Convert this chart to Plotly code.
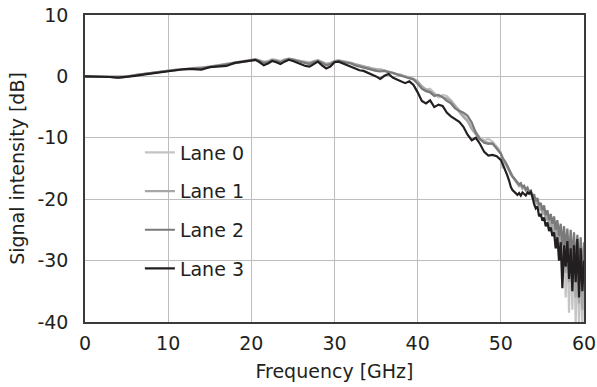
import plotly.graph_objects as go

# Frequency axis [GHz], in three segments
freq_a = [0, 1, 2, 3, 4, 5, 6, 7, 8, 9, 10, 11, 12, 13, 14, 15, 16, 17, 18, 19]
freq_b = [20, 20.5, 21, 21.5, 22, 22.5, 23, 23.5, 24, 24.5,
          25, 25.5, 26, 26.5, 27, 27.5, 28, 28.5, 29, 29.5,
          30, 30.5, 31, 31.5, 32, 32.5, 33, 33.5, 34, 34.5,
          35, 35.5, 36, 36.5, 37, 37.5, 38, 38.5, 39, 39.5,
          40, 40.5, 41, 41.5, 42, 42.5, 43, 43.5, 44, 44.5,
          45, 45.5, 46, 46.5, 47, 47.5, 48, 48.5, 49, 49.5]
freq_c = [50.0, 50.2, 50.4, 50.6, 50.8, 51.0, 51.2, 51.4, 51.6, 51.8,
          52.0, 52.2, 52.4, 52.6, 52.8, 53.0, 53.2, 53.4, 53.6, 53.8,
          54.0, 54.2, 54.4, 54.6, 54.8, 55.0, 55.2, 55.4, 55.6, 55.8,
          56.0, 56.2, 56.4, 56.6, 56.8, 57.0, 57.2, 57.4, 57.6, 57.8,
          58.0, 58.2, 58.4, 58.6, 58.8, 59.0, 59.2, 59.4, 59.6, 59.8,
          60.0]
freq = freq_a + freq_b + freq_c

# Lane 0 signal intensity [dB]
lane0_a = [0.0, 0.0, -0.1, -0.1, -0.2, 0.0, 0.2, 0.4, 0.5, 0.7,
           0.9, 1.1, 1.2, 1.4, 1.4, 1.6, 1.8, 2.0, 2.3, 2.5]
lane0_b = [2.7, 2.8, 2.6, 2.4, 2.5, 2.8, 2.7, 2.5, 2.8, 2.9,
           2.8, 2.6, 2.5, 2.4, 2.3, 2.5, 2.7, 2.4, 2.1, 2.2,
           2.5, 2.6, 2.5, 2.3, 2.1, 1.9, 1.7, 1.5, 1.5, 1.3,
           1.0, 1.2, 1.0, 0.6, 0.5, 0.3, 0.3, 0.0, -0.3, -0.5,
           -1.0, -1.8, -2.2, -2.0, -2.7, -3.4, -3.0, -3.2, -3.9, -4.8,
           -5.5, -6.2, -7.0, -8.2, -9.0, -10.0, -10.4, -10.2, -10.6, -11.4]
lane0_c = [-12.3, -15.0, -13.6, -14.0, -14.6,
           -15.2, -15.8, -16.2, -16.6, -17.0,
           -17.4, -17.8, -17.5, -18.2, -18.0,
           -18.5, -18.2, -18.9, -18.6, -19.6,
           -19.6, -20.6, -20.2, -21.6, -21.0,
           -22.2, -21.5, -23.4, -22.0, -24.6,
           -22.8, -26.0, -23.4, -28.0, -24.0,
           -30.0, -25.0, -33.0, -25.5, -36.0,
           -26.0, -38.5, -27.0, -38.0, -27.5,
           -40.0, -28.0, -40.5, -29.0, -41.0,
           -31.0]

# Lane 1
lane1_a = [0.0, 0.0, 0.0, -0.1, -0.1, 0.0, 0.2, 0.4, 0.6, 0.7,
           0.9, 1.1, 1.2, 1.3, 1.4, 1.6, 1.8, 2.0, 2.3, 2.5]
lane1_b = [2.7, 2.8, 2.6, 2.3, 2.4, 2.7, 2.6, 2.4, 2.7, 2.9,
           2.8, 2.6, 2.4, 2.3, 2.2, 2.4, 2.6, 2.3, 2.0, 2.1,
           2.5, 2.6, 2.5, 2.4, 2.2, 2.0, 1.8, 1.6, 1.4, 1.3,
           1.2, 1.1, 1.0, 0.8, 0.6, 0.4, 0.2, 0.0, -0.2, -0.4,
           -0.8, -1.6, -2.1, -2.4, -2.9, -3.1, -3.3, -3.6, -4.0, -5.0,
           -5.8, -6.6, -7.3, -8.6, -9.5, -10.3, -10.6, -10.8, -11.0, -11.6]
lane1_c = [-12.5, -13.3, -13.8, -14.2, -14.9,
           -15.4, -16.0, -16.4, -16.8, -17.2,
           -17.6, -17.9, -17.7, -18.3, -18.1,
           -18.6, -18.4, -19.0, -18.8, -19.8,
           -20.0, -20.8, -20.4, -21.8, -21.2,
           -22.5, -21.8, -23.5, -22.4, -24.6,
           -23.0, -25.8, -23.6, -27.0, -24.2,
           -28.6, -24.8, -30.5, -25.4, -32.0,
           -26.0, -33.5, -26.4, -35.0, -26.8,
           -36.0, -27.2, -37.0, -27.6, -38.0,
           -30.0]

# Lane 2
lane2_a = [0.0, 0.0, -0.1, -0.1, -0.2, -0.1, 0.2, 0.4, 0.5, 0.7,
           0.9, 1.0, 1.2, 1.3, 1.3, 1.5, 1.7, 1.9, 2.2, 2.4]
lane2_b = [2.6, 2.7, 2.5, 2.2, 2.3, 2.6, 2.5, 2.3, 2.6, 2.8,
           2.7, 2.5, 2.3, 2.1, 2.0, 2.3, 2.5, 2.2, 1.8, 2.0,
           2.4, 2.5, 2.4, 2.3, 2.1, 1.8, 1.6, 1.5, 1.3, 1.1,
           0.9, 0.8, 0.9, 0.7, 0.6, 0.3, 0.1, -0.1, -0.2, -0.5,
           -1.2, -2.0, -2.4, -2.6, -3.2, -3.0, -3.4, -4.0, -4.4, -5.2,
           -5.6, -5.9, -6.4, -7.5, -9.2, -10.2, -10.8, -11.0, -10.9, -11.8]
lane2_c = [-12.6, -13.2, -13.6, -14.0, -14.6,
           -15.2, -15.8, -16.3, -16.6, -17.0,
           -17.3, -17.6, -17.4, -18.0, -17.8,
           -18.4, -18.1, -18.8, -18.6, -19.5,
           -19.2, -20.3, -19.8, -21.0, -20.6,
           -21.8, -21.0, -22.6, -21.8, -23.4,
           -22.4, -24.0, -22.8, -25.0, -23.4,
           -26.0, -24.0, -27.5, -24.4, -28.5,
           -24.8, -29.5, -25.0, -30.0, -25.4,
           -31.0, -25.8, -32.0, -26.2, -33.0,
           -27.0]

# Lane 3
lane3_a = [0.0, 0.0, -0.1, -0.1, -0.2, -0.1, 0.1, 0.3, 0.5, 0.7,
           0.9, 1.0, 1.2, 1.2, 1.1, 1.5, 1.6, 1.7, 2.2, 2.4]
lane3_b = [2.6, 2.7, 2.3, 1.8, 2.1, 2.5, 2.3, 2.0, 2.4, 2.7,
           2.5, 2.2, 1.9, 1.7, 1.6, 2.0, 2.4, 1.8, 1.3, 1.6,
           2.3, 2.4, 2.1, 1.9, 1.6, 1.2, 1.0, 0.9, 0.6, 0.4,
           0.0, -0.4, 0.1, 0.4, -0.2, -0.5, -0.8, -1.1, -0.8, -1.4,
           -2.6, -4.0, -4.4, -3.9, -5.0, -4.6, -4.8, -5.9, -6.5, -6.9,
           -7.4, -8.2, -9.5, -10.4, -10.0, -11.0, -12.3, -12.9, -12.8, -13.0]
lane3_c = [-13.6, -14.2, -14.8, -15.4, -16.2,
           -17.0, -18.0, -18.5, -18.8, -19.1,
           -19.3, -19.0, -19.4, -18.9, -19.2,
           -19.4, -18.9, -19.1, -18.8, -19.6,
           -20.8, -21.5, -21.2, -22.8, -22.4,
           -23.5, -23.0, -24.4, -23.8, -25.2,
           -24.6, -26.0, -25.4, -28.0, -26.2,
           -30.0, -27.0, -34.5, -27.5, -31.0,
           -26.8, -33.0, -28.0, -35.0, -27.5,
           -33.5, -26.5, -36.0, -28.0, -35.0,
           -30.0]

lane_names = ["Lane 0", "Lane 1", "Lane 2", "Lane 3"]
lane_values = [lane0_a + lane0_b + lane0_c,
               lane1_a + lane1_b + lane1_c,
               lane2_a + lane2_b + lane2_c,
               lane3_a + lane3_b + lane3_c]
lane_colors = ["#c4c4c4", "#a6a6a6", "#7a7a7a", "#231f20"]

x_ticks = [0, 10, 20, 30, 40, 50, 60]
y_ticks = [-40, -30, -20, -10, 0, 10]

FONT = "DejaVu Sans, Verdana, sans-serif"
TXT = "#231f20"

fig = go.Figure()
for name, vals, col in zip(lane_names, lane_values, lane_colors):
    fig.add_trace(go.Scatter(
        x=freq, y=vals, mode="lines", name=name, legendgroup=name,
        line=dict(color=col, width=2.2),
    ))

fig.update_layout(
    width=597, height=387,
    margin=dict(l=85, r=13, t=15, b=65),
    paper_bgcolor="white", plot_bgcolor="white",
    font=dict(family=FONT, size=19, color=TXT),
    showlegend=True,
    legend=dict(
        x=0.11, y=0.614, xanchor="left", yanchor="top",
        bgcolor="rgba(0,0,0,0)", borderwidth=0,
        font=dict(family=FONT, size=19, color=TXT),
        tracegroupgap=11, itemwidth=30,
    ),
    xaxis=dict(
        range=[0, 60], tickvals=x_ticks, ticktext=[str(v) for v in x_ticks],
        showgrid=True, gridcolor="#bdbdbd", gridwidth=1,
        showline=True, mirror=True, linecolor="#3a3a3a", linewidth=1.5,
        zeroline=False, ticks="", ticklabelstandoff=3, automargin=False,
        title=dict(text="Frequency [GHz]", standoff=12,
                   font=dict(family=FONT, size=19, color=TXT)),
    ),
    yaxis=dict(
        range=[-40, 10], tickvals=y_ticks, ticktext=[str(v) for v in y_ticks],
        showgrid=True, gridcolor="#bdbdbd", gridwidth=1,
        showline=True, mirror=True, linecolor="#3a3a3a", linewidth=1.5,
        zeroline=False, ticks="", ticklabelstandoff=11, automargin=False,
        title=dict(text="Signal intensity [dB]", standoff=8,
                   font=dict(family=FONT, size=19, color=TXT)),
    ),
)

# Remove the default page margin so the figure sits at the window's origin.
fig.write_html("out.html", config={"displayModeBar": False},
               post_script="document.body.style.margin='0px';")
